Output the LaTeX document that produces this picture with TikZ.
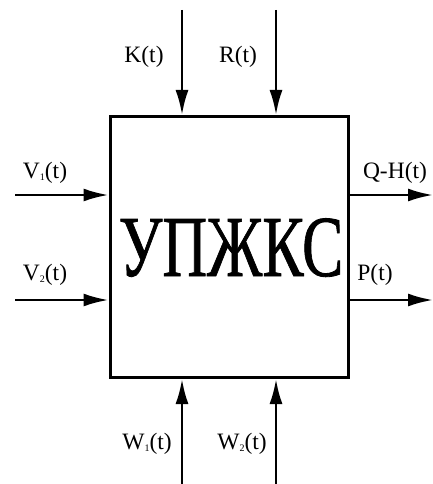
\documentclass[tikz,border=0pt]{standalone}
\usepackage{fontspec}
\setmainfont{Liberation Serif}
\newfontface\bigfnt[FakeBold=1]{Liberation Serif}
\usetikzlibrary{arrows.meta}
\tikzset{
  sig/.style={line width=2.6pt,-{Latex[length=25pt,width=13pt]}},
  lbl/.style={font=\fontsize{23.5}{24}\selectfont,inner sep=0pt},
  blk/.style={draw,line width=3pt,minimum width=238pt,minimum height=261pt,inner sep=0pt}
}
\newcommand{\sbs}[1]{\raisebox{-2pt}{\fontsize{10}{10}\selectfont #1}}
\begin{document}
\begin{tikzpicture}[x=1pt,y=-1pt]
\useasboundingbox (0,0) rectangle (433,484);
\node[blk] (box) at (229,247) {};
\node[anchor=base,inner sep=0pt] (title) at (231,276) {\scalebox{0.71}[1]{\bigfnt\fontsize{87}{87}\selectfont УПЖКС}};
% top inputs
\coordinate (k0) at (182,10);
\coordinate (r0) at (276,10);
\draw[sig] (k0) -- (k0 |- box.north);
\draw[sig] (r0) -- (r0 |- box.north);
% bottom inputs
\coordinate (w1) at (182,484);
\coordinate (w2) at (276,484);
\draw[sig] (w1) -- (w1 |- box.south);
\draw[sig] (w2) -- (w2 |- box.south);
% left inputs
\coordinate (v1) at (15,195);
\coordinate (v2) at (15,300);
\draw[sig] (v1) -- (v1 -| box.west);
\draw[sig] (v2) -- (v2 -| box.west);
% right outputs
\coordinate (q1) at (433,195);
\coordinate (p1) at (433,300);
\draw[sig] (q1 -| box.east) -- (q1);
\draw[sig] (p1 -| box.east) -- (p1);
% labels
\node[lbl] (lk) at (144,57) {K(t)};
\node[lbl] (lr) at (238,57) {R(t)};
\node[lbl] (lv1) at (45,173) {V\sbs{1}(t)};
\node[lbl] (lv2) at (45,275) {V\sbs{2}(t)};
\node[lbl] (lq) at (395,173) {Q-H(t)};
\node[lbl] (lp) at (375,275) {P(t)};
\node[lbl] (lw1) at (147,444) {W\sbs{1}(t)};
\node[lbl] (lw2) at (242,444) {W\sbs{2}(t)};
\end{tikzpicture}
\end{document}
